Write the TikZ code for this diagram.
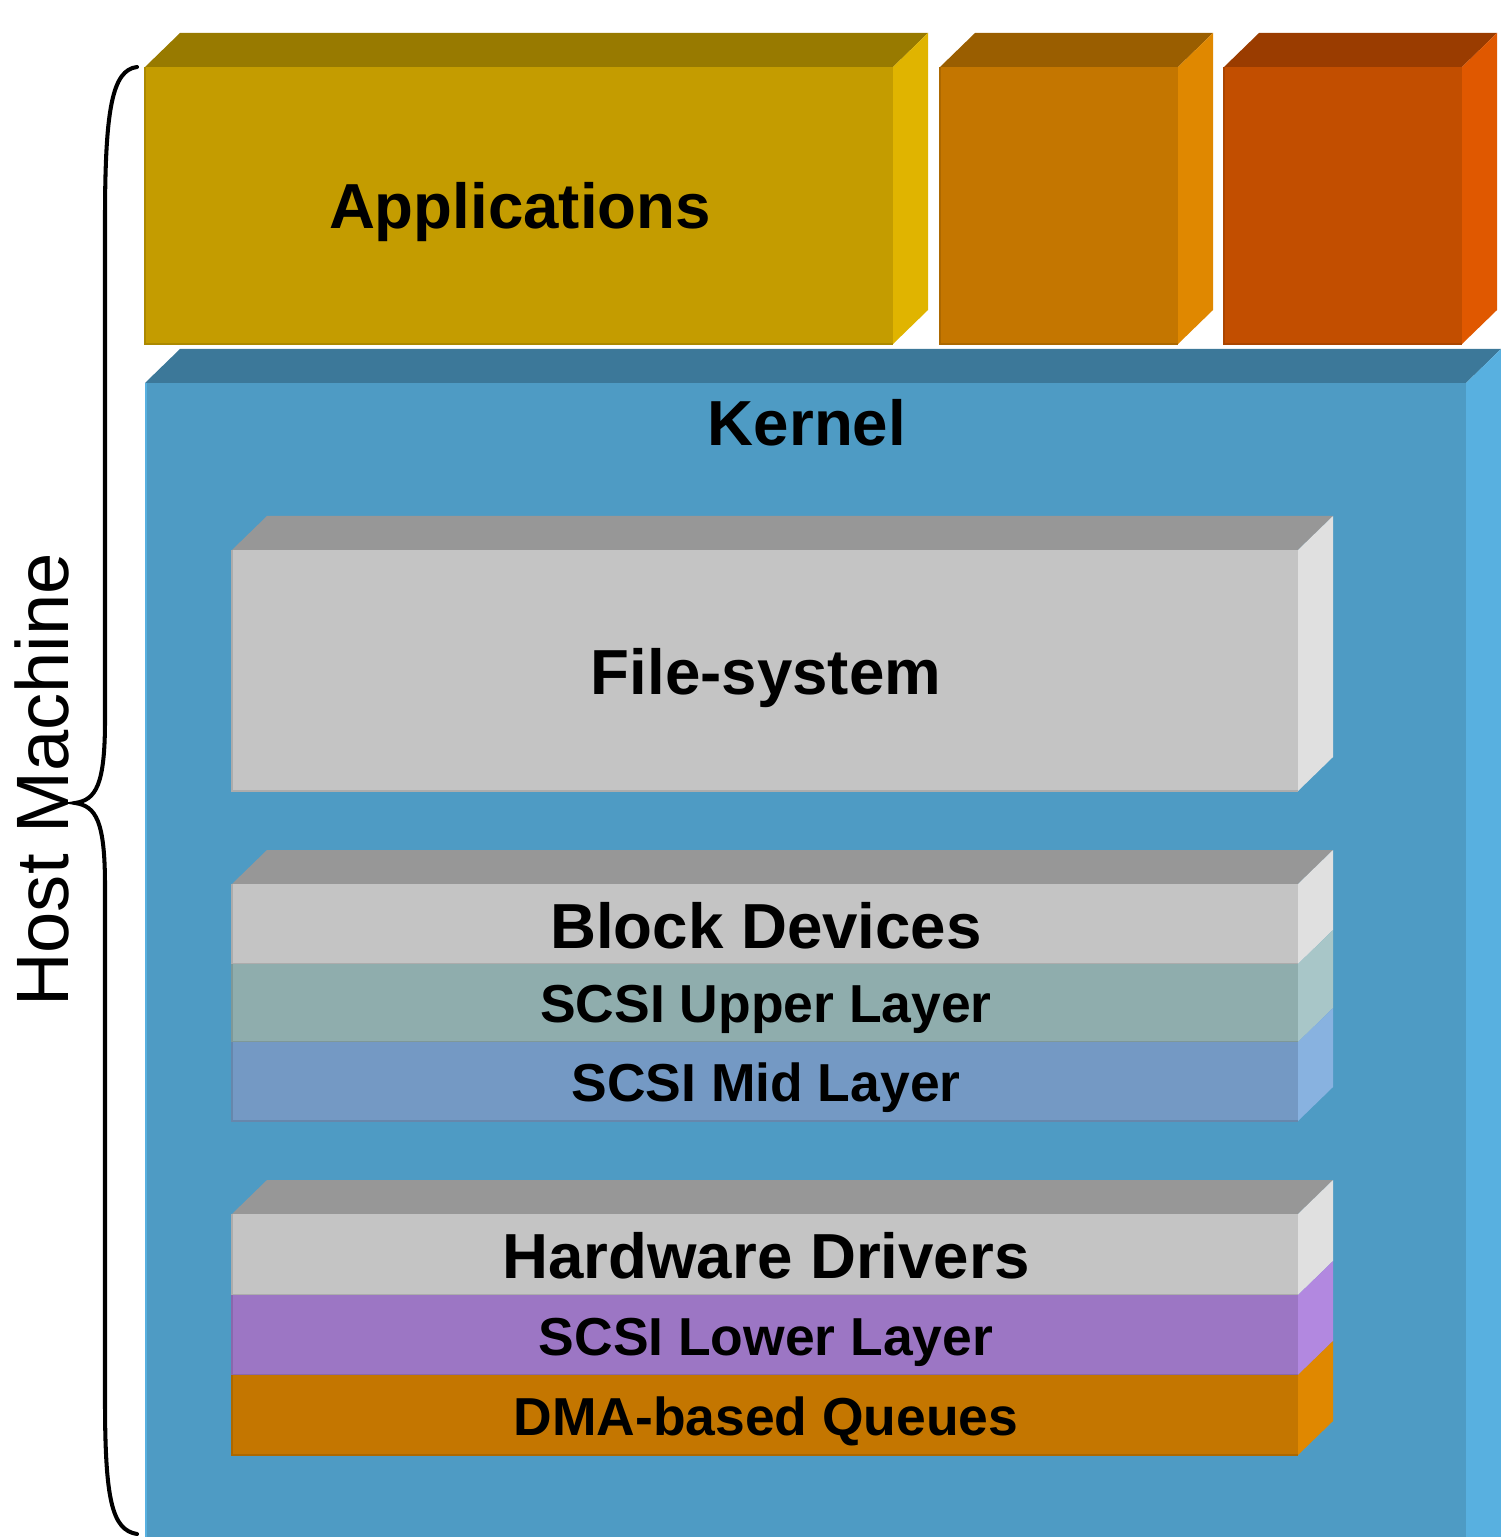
\documentclass[tikz,border=0pt]{standalone}
\usepackage{fontspec}
\setmainfont{Liberation Sans}
\begin{document}
\begin{tikzpicture}[x=0.01cm,y=-0.01cm,
  biglabel/.style={font=\fontsize{18.1pt}{20pt}\selectfont\bfseries, anchor=base, inner sep=0pt},
  midlabel/.style={font=\fontsize{15.2pt}{17pt}\selectfont\bfseries, anchor=base, inner sep=0pt},
  hostlabel/.style={font=\fontsize{21.1pt}{23pt}\selectfont, anchor=base, inner sep=0pt, rotate=90},
  bracestyle/.style={line width=1.15pt, line cap=round, draw=black}]
\definecolor{appF}{HTML}{C49C00}\definecolor{appT}{HTML}{987A00}\definecolor{appS}{HTML}{E0B400}
\definecolor{orF}{HTML}{C47600}\definecolor{orT}{HTML}{9A5E00}\definecolor{orS}{HTML}{E08800}
\definecolor{rdF}{HTML}{C24E00}\definecolor{rdT}{HTML}{9A3C00}\definecolor{rdS}{HTML}{E05800}
\definecolor{knF}{HTML}{4E9BC4}\definecolor{knT}{HTML}{3C7899}\definecolor{knS}{HTML}{58B0E0}
\definecolor{gyF}{HTML}{C4C4C4}\definecolor{gyT}{HTML}{979797}\definecolor{gyS}{HTML}{E0E0E0}
\definecolor{upF}{HTML}{8FADAD}\definecolor{upS}{HTML}{A8C6C8}
\definecolor{miF}{HTML}{7499C4}\definecolor{miS}{HTML}{88B2E0}
\definecolor{loF}{HTML}{9C76C4}\definecolor{loS}{HTML}{B288E0}
\newcommand{\mytop}[4]{% x1,y1,x2,colour
  \fill[#4] (#1,#2) -- ({#1+35},{#2-34}) -- ({#3+35},{#2-34}) -- (#3,#2) -- cycle;}
\newcommand{\mylayer}[7]{% x1,y1,x2,y2,front,side,bottom of side
  \fill[#6] (#3,#2) -- ({#3+35},{#2-34}) -- ({#3+35},#7) -- (#3,#4) -- cycle;
  \fill[#5] (#1,#2) rectangle (#3,#4);
  \draw[#5!88!black, line width=0.5pt] (#1,#2) -- (#1,#4) -- (#3,#4);}
\useasboundingbox (0,0) rectangle (1501,1537);
% Applications row
\mytop{145}{67}{893}{appT}
\mylayer{145}{67}{893}{344}{appF}{appS}{310}
\mytop{940}{67}{1178}{orT}
\mylayer{940}{67}{1178}{344}{orF}{orS}{310}
\mytop{1224}{67}{1462}{rdT}
\mylayer{1224}{67}{1462}{344}{rdF}{rdS}{310}
% Kernel
\mytop{145}{383}{1466}{knT}
\fill[knS] (1466,383) -- (1501,349) -- (1501,1537) -- (1466,1537) -- cycle;
\fill[knF] (145,383) rectangle (1466,1537);
\draw[knS, line width=0.6pt] (146,383) -- (146,1537);
% File-system
\mytop{232}{550}{1298}{gyT}
\mylayer{232}{550}{1298}{791}{gyF}{gyS}{757}
% Block group
\mytop{232}{884}{1298}{gyT}
\mylayer{232}{884}{1298}{964}{gyF}{gyS}{930}
\mylayer{232}{964}{1298}{1042}{upF}{upS}{1008}
\mylayer{232}{1042}{1298}{1121}{miF}{miS}{1087}
% Hardware group
\mytop{232}{1214}{1298}{gyT}
\mylayer{232}{1214}{1298}{1295}{gyF}{gyS}{1261}
\mylayer{232}{1295}{1298}{1375}{loF}{loS}{1341}
\mylayer{232}{1375}{1298}{1455}{orF}{orS}{1421}
% Labels
\node[biglabel] (apps) at (520,229) {Applications};
\node[biglabel] (kernel) at (807,446) {Kernel};
\node[biglabel] (fs) at (766,694) {File-system};
\node[biglabel] (blk) at (766,948) {Block Devices};
\node[midlabel] (upper) at (766,1022) {SCSI Upper Layer};
\node[midlabel] (mid) at (766,1101) {SCSI Mid Layer};
\node[biglabel] (hw) at (766,1278) {Hardware Drivers};
\node[midlabel] (lower) at (766,1355) {SCSI Lower Layer};
\node[midlabel] (dma) at (766,1435) {DMA-based Queues};
\node[hostlabel] (host) at (68,780) {Host Machine};
% Brace
\coordinate (bt) at (137,67);
\coordinate (tip) at (75,803);
\coordinate (bb) at (137,1534);
\draw[bracestyle] (bt) .. controls (112,70) and (105,110) .. (105,220)
  -- (105,720) .. controls (105,785) and (96,800) .. (tip)
  .. controls (96,806) and (105,821) .. (105,886)
  -- (105,1400) .. controls (105,1500) and (112,1530) .. (bb);
\end{tikzpicture}
\end{document}
